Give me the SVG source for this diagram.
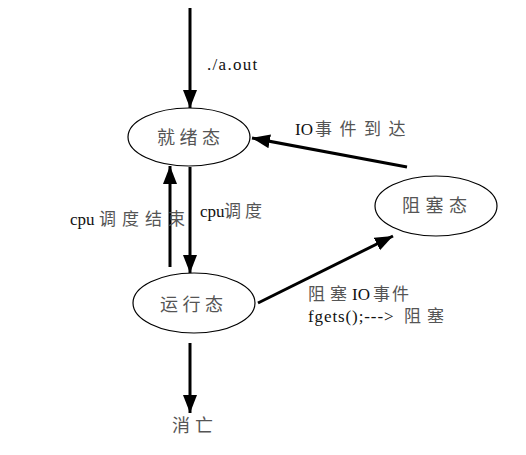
<svg xmlns="http://www.w3.org/2000/svg" width="526" height="455" viewBox="0 0 526 455">
<defs>
<marker id="ah" markerUnits="userSpaceOnUse" markerWidth="20" markerHeight="16" refX="18" refY="7" orient="auto">
<path d="M0,0 L18,7 L0,14 z" fill="#000"/>
</marker>
<style>
.n ellipse{fill:#fff;stroke:#000;stroke-width:1.2}
.n text{font-family:"Liberation Serif","Noto Sans CJK SC",serif;font-size:18px;fill:#555}
.e line{stroke:#000;stroke-width:3;marker-end:url(#ah)}
.l{font-family:"Liberation Serif","Noto Sans CJK SC",serif;font-size:17px;fill:#111}
.c{font-family:"Noto Sans CJK SC",sans-serif;font-size:17px;fill:#555}
</style>
</defs>
<rect width="526" height="455" fill="#fff"/>
<g id="connectors" class="e">
<line x1="190" y1="8" x2="190" y2="108"/>
<line x1="170" y1="267" x2="170" y2="166"/>
<line x1="190" y1="167" x2="190" y2="273"/>
<line x1="407" y1="167" x2="252" y2="138"/>
<line x1="258" y1="303" x2="393" y2="236"/>
<line x1="190" y1="343" x2="190" y2="413"/>
</g>
<g id="ready" class="n"><ellipse cx="189" cy="137" rx="61" ry="29"/><text x="157" y="144" letter-spacing="4.5">就绪态</text></g>
<g id="running" class="n"><ellipse cx="194" cy="303" rx="61" ry="30"/><text x="160" y="311" letter-spacing="4.5">运行态</text></g>
<g id="blocked" class="n"><ellipse cx="436" cy="206" rx="61" ry="30"/><text x="402" y="212" letter-spacing="5.5">阻塞态</text></g>
<g id="dead" class="n"><text x="172" y="432" letter-spacing="5">消亡</text></g>
<g id="labels">
<text class="l" x="207" y="70" letter-spacing="1.3">./a.out</text>
<text class="l" x="295" y="135">IO<tspan class="c" x="315" letter-spacing="7.5">事件到达</tspan></text>
<text class="l" x="70" y="225">cpu<tspan class="c" x="99" letter-spacing="6">调度结束</tspan></text>
<text class="l" x="200" y="217">cpu<tspan class="c" x="224" letter-spacing="4">调度</tspan></text>
<text class="l" x="308" y="300"><tspan class="c" letter-spacing="5">阻塞</tspan><tspan x="352">IO</tspan><tspan class="c" x="373" letter-spacing="2">事件</tspan></text>
<text class="l" x="308" y="322"><tspan letter-spacing="0.9">fgets();---&gt;</tspan><tspan class="c" x="404" letter-spacing="6">阻塞</tspan></text>
</g>
</svg>
